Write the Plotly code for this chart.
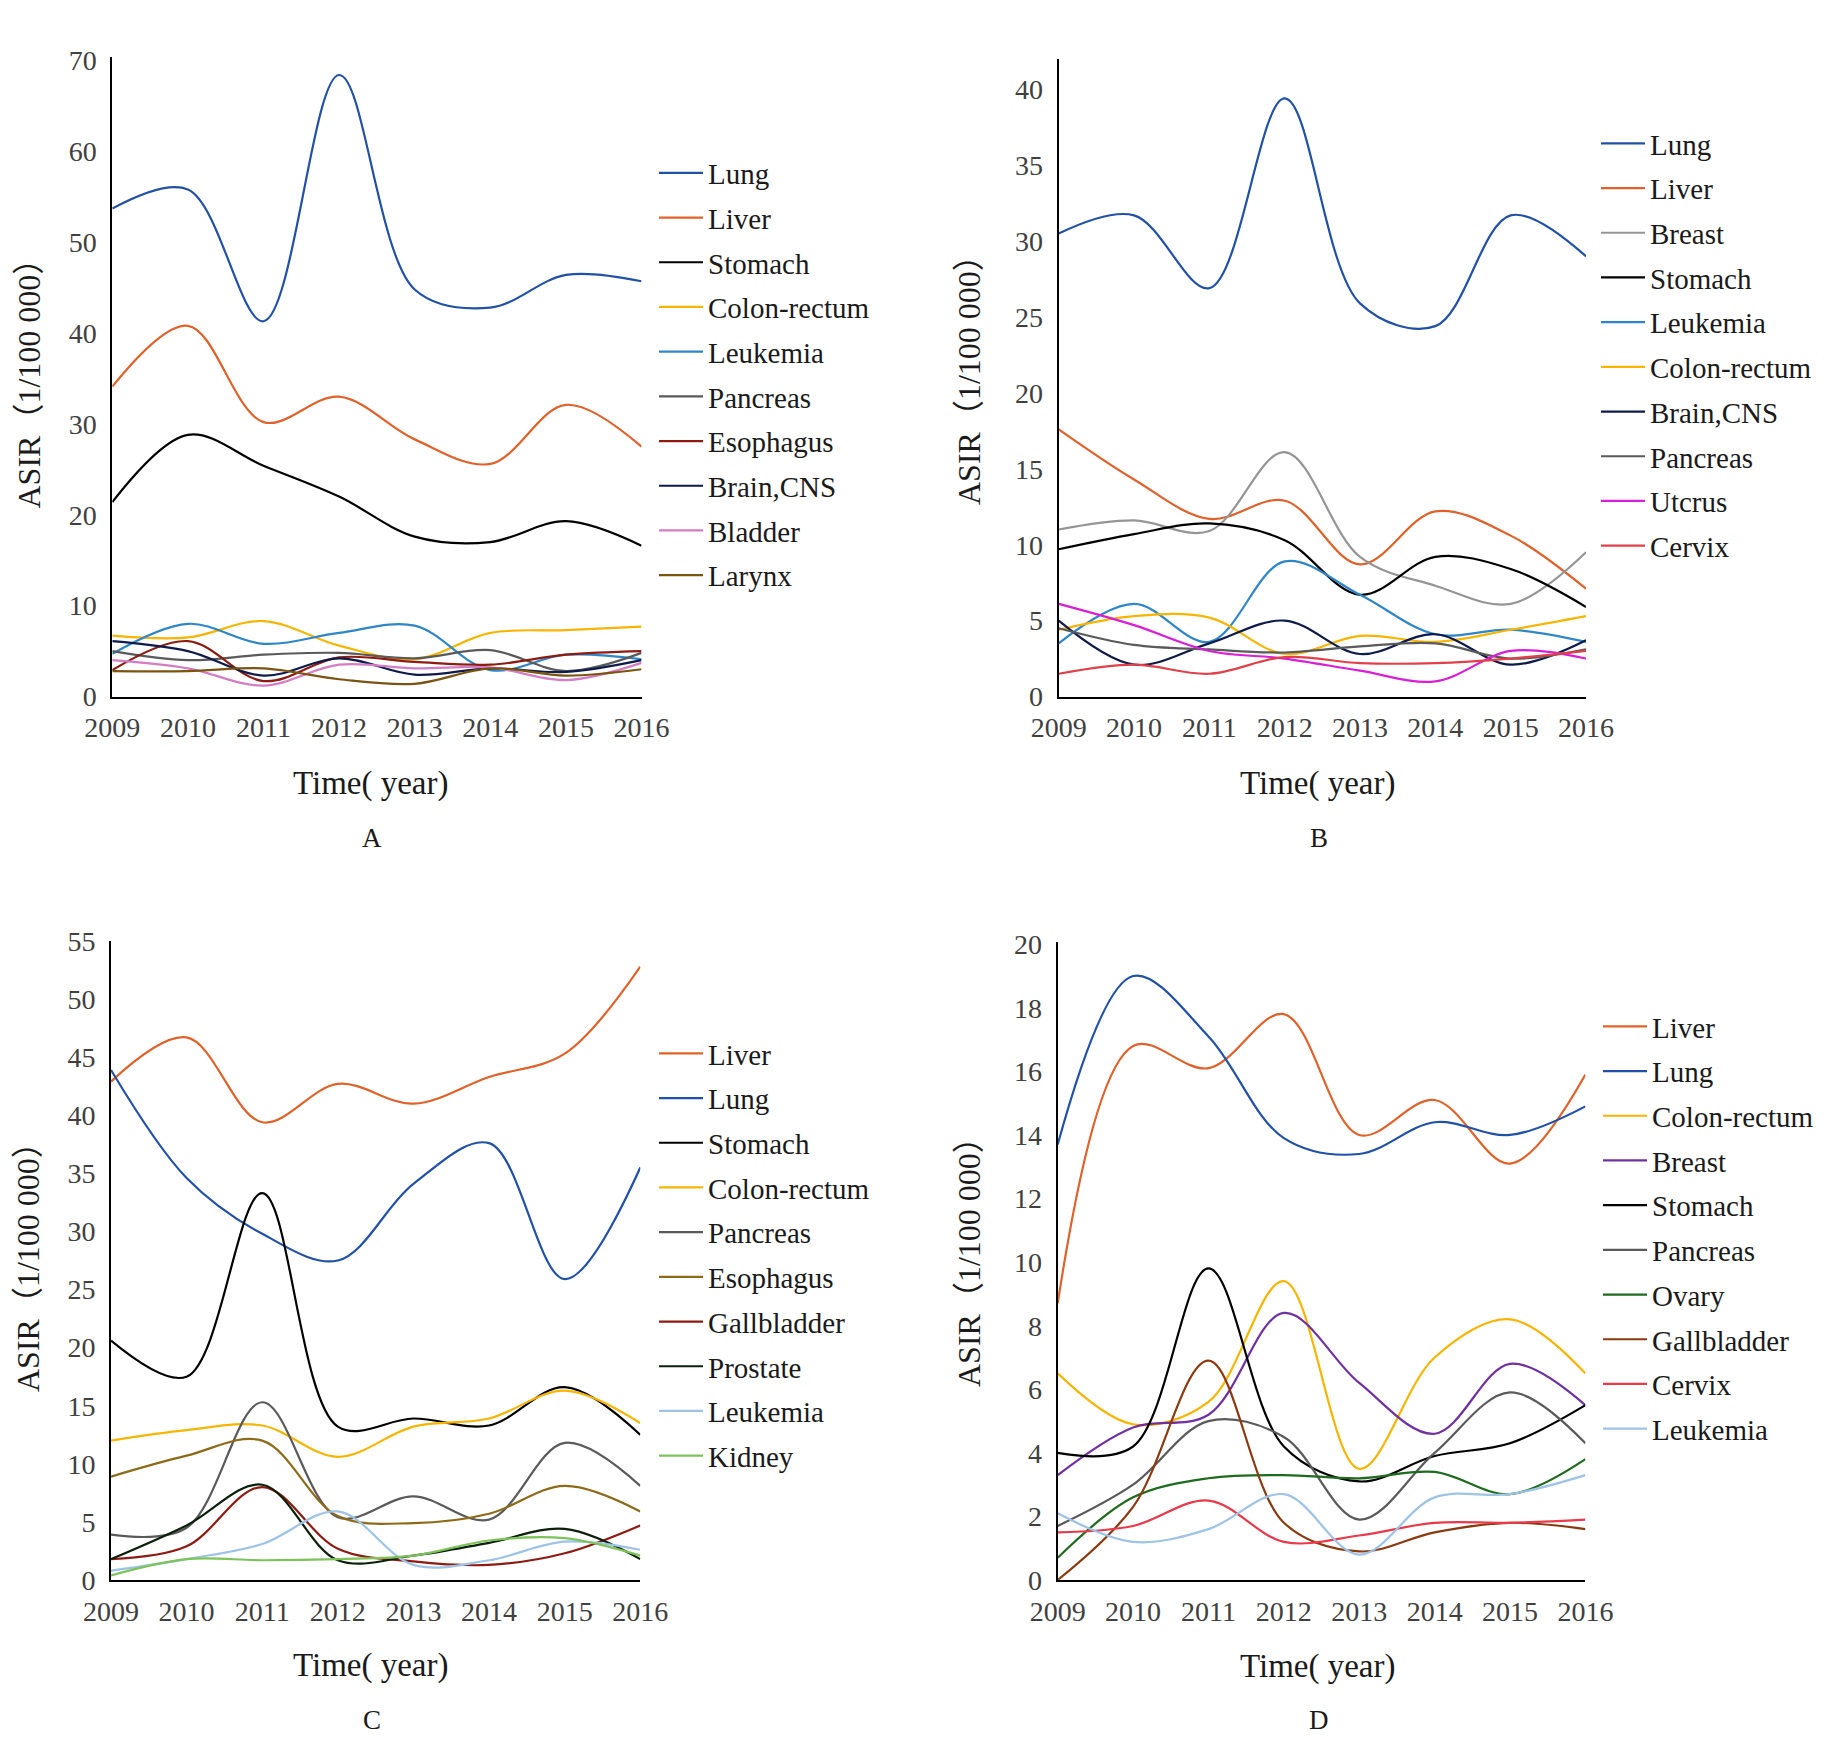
import plotly.graph_objects as go

years = [2009, 2010, 2011, 2012, 2013, 2014, 2015, 2016]
year_labels = ["2009", "2010", "2011", "2012", "2013", "2014", "2015", "2016"]

# ---------------- Panel A ----------------
A_names = ["Lung", "Liver", "Stomach", "Colon-rectum", "Leukemia", "Pancreas",
           "Esophagus", "Brain,CNS", "Bladder", "Larynx"]
A_lung = [53.7, 55.8, 41.3, 68.4, 44.8, 42.8, 46.4, 45.7]
A_liver = [34.1, 40.8, 30.2, 33.0, 28.3, 25.6, 32.1, 27.5]
A_stomach = [21.4, 28.8, 25.4, 22.0, 17.6, 17.0, 19.3, 16.6]
A_colon = [6.7, 6.5, 8.3, 5.6, 4.1, 7.0, 7.3, 7.7]
A_leukemia = [4.7, 8.0, 5.8, 7.0, 7.8, 2.9, 4.6, 4.1]
A_pancreas = [5.0, 4.0, 4.6, 4.8, 4.2, 5.1, 2.8, 4.8]
A_esophagus = [2.9, 6.1, 1.7, 4.3, 3.8, 3.5, 4.6, 5.0]
A_brain = [6.1, 5.0, 2.3, 4.2, 2.4, 3.1, 2.7, 4.0]
A_bladder = [4.0, 3.1, 1.2, 3.5, 3.1, 3.2, 1.8, 3.7]
A_larynx = [2.8, 2.8, 3.1, 1.9, 1.4, 3.1, 2.3, 3.0]
A_values = [A_lung, A_liver, A_stomach, A_colon, A_leukemia, A_pancreas,
            A_esophagus, A_brain, A_bladder, A_larynx]

# ---------------- Panel B ----------------
B_names = ["Lung", "Liver", "Breast", "Stomach", "Leukemia", "Colon-rectum",
           "Brain,CNS", "Pancreas", "Utcrus", "Cervix"]
B_lung = [30.5, 31.7, 26.9, 39.4, 25.9, 24.4, 31.7, 29.0]
B_liver = [17.6, 14.3, 11.7, 12.9, 8.7, 12.2, 10.6, 7.1]
B_breast = [11.0, 11.6, 10.9, 16.1, 9.2, 7.3, 6.1, 9.5]
B_stomach = [9.7, 10.7, 11.4, 10.3, 6.7, 9.2, 8.4, 5.9]
B_leukemia = [3.5, 6.1, 3.6, 8.9, 6.7, 4.1, 4.4, 3.6]
B_colon = [4.4, 5.3, 5.2, 2.8, 4.0, 3.6, 4.4, 5.3]
B_brain = [5.0, 2.1, 3.5, 5.0, 2.8, 4.1, 2.1, 3.7]
B_pancreas = [4.5, 3.4, 3.1, 2.9, 3.3, 3.5, 2.5, 3.1]
B_utcrus = [6.1, 4.7, 3.0, 2.5, 1.7, 1.0, 3.0, 2.5]
B_cervix = [1.5, 2.1, 1.5, 2.6, 2.2, 2.2, 2.5, 3.0]
B_values = [B_lung, B_liver, B_breast, B_stomach, B_leukemia, B_colon,
            B_brain, B_pancreas, B_utcrus, B_cervix]

# ---------------- Panel C ----------------
C_names = ["Liver", "Lung", "Stomach", "Colon-rectum", "Pancreas", "Esophagus",
           "Gallbladder", "Prostate", "Leukemia", "Kidney"]
C_liver = [42.9, 46.7, 39.4, 42.7, 41.0, 43.3, 45.3, 52.8]
C_lung = [43.9, 34.6, 29.8, 27.5, 34.1, 37.6, 25.9, 35.5]
C_stomach = [20.6, 17.5, 33.3, 13.2, 13.9, 13.3, 16.6, 12.5]
C_colon = [12.0, 12.9, 13.3, 10.6, 13.2, 13.9, 16.3, 13.5]
C_pancreas = [3.9, 4.5, 15.3, 5.4, 7.2, 5.2, 11.8, 8.1]
C_esophagus = [8.9, 10.7, 12.0, 5.5, 4.9, 5.7, 8.1, 5.9]
C_gallbladder = [1.8, 2.9, 8.0, 2.7, 1.6, 1.3, 2.3, 4.7]
C_prostate = [1.8, 4.7, 8.2, 1.7, 2.1, 3.2, 4.4, 1.8]
C_leukemia = [0.8, 1.8, 3.1, 5.9, 1.3, 1.7, 3.3, 2.6]
C_kidney = [0.4, 1.8, 1.7, 1.8, 2.1, 3.4, 3.6, 2.1]
C_values = [C_liver, C_lung, C_stomach, C_colon, C_pancreas, C_esophagus,
            C_gallbladder, C_prostate, C_leukemia, C_kidney]

# ---------------- Panel D ----------------
D_names = ["Liver", "Lung", "Colon-rectum", "Breast", "Stomach", "Pancreas",
           "Ovary", "Gallbladder", "Cervix", "Leukemia"]
D_liver = [8.7, 16.8, 16.1, 17.8, 14.0, 15.1, 13.1, 15.9]
D_lung = [13.7, 19.0, 17.1, 13.9, 13.4, 14.4, 14.0, 14.9]
D_colon = [6.5, 4.9, 5.6, 9.4, 3.5, 7.0, 8.2, 6.5]
D_breast = [3.3, 4.8, 5.2, 8.4, 6.2, 4.6, 6.8, 5.5]
D_stomach = [4.0, 4.2, 9.8, 4.2, 3.1, 3.9, 4.3, 5.5]
D_pancreas = [1.7, 3.0, 5.0, 4.5, 1.9, 4.0, 5.9, 4.3]
D_ovary = [0.7, 2.6, 3.2, 3.3, 3.2, 3.4, 2.7, 3.8]
D_gallbladder = [0.0, 2.3, 6.9, 1.8, 0.9, 1.5, 1.8, 1.6]
D_cervix = [1.5, 1.7, 2.5, 1.2, 1.4, 1.8, 1.8, 1.9]
D_leukemia = [2.1, 1.2, 1.6, 2.7, 0.8, 2.6, 2.7, 3.3]
D_values = [D_liver, D_lung, D_colon, D_breast, D_stomach, D_pancreas,
            D_ovary, D_gallbladder, D_cervix, D_leukemia]

# ---------------- styles ----------------
A_colors = ["#2151A6", "#E0622A", "#000000", "#F7B500", "#2E86C8", "#5A5A5A",
            "#8E1B12", "#0E1A4A", "#D47CC4", "#7A5410"]
B_colors = ["#2151A6", "#E0622A", "#959595", "#000000", "#2E86C8", "#F7B500",
            "#0E1A4A", "#5A5A5A", "#D91ED8", "#E0404A"]
C_colors = ["#E0622A", "#2151A6", "#000000", "#F7B500", "#5A5A5A", "#8E6A18",
            "#8E1B12", "#0B200B", "#9DC3E6", "#7DC35A"]
D_colors = ["#E0622A", "#2151A6", "#F7B500", "#7030A0", "#000000", "#5A5A5A",
            "#1E6B1E", "#8B3A10", "#E83A4A", "#9DC3E6"]

# The page body has an 8px default margin, so the figure is drawn 8px in.
OFF = 8
W, H = 1831 - OFF, 1752 - OFF
SERIF = "Liberation Serif, Times New Roman, serif"
TITLE_FONT = "Liberation Serif, Noto Sans CJK SC, serif"
LEG_SIZE = 29


def px(x):
    return (x - OFF) / W


def py(y):
    return 1 - (y - OFF) / H


fig = go.Figure()

panels = [
    # names, values, colors, axis suffix, legend id, x domain px, y px (bottom, top), y range, dtick, legend pos px
    (A_names, A_values, A_colors, "", "legend", (112.3, 641.5), (696.5, 57.3), [0, 70.35], 10, (654, 147.5)),
    (B_names, B_values, B_colors, "2", "legend2", (1058.7, 1586.0), (696.5, 59.0), [0, 42.0], 5, (1596, 118)),
    (C_names, C_values, C_colors, "3", "legend3", (111.0, 640.3), (1580.0, 941.0), [0, 55], 5, (654, 1028)),
    (D_names, D_values, D_colors, "4", "legend4", (1057.7, 1585.4), (1580.0, 942.0), [0, 20.07], 2, (1598, 1001)),
]

layout_axes = {}
for idx, (names, values, colors, sfx, leg, xd, yd, yr, dt, lpos) in enumerate(panels):
    for k, (nm, vals, col) in enumerate(zip(names, values, colors)):
        fig.add_trace(go.Scatter(
            x=years, y=vals, name=nm, mode="lines",
            line=dict(color=col, width=2.2, shape="spline", smoothing=1.0),
            xaxis="x" + sfx, yaxis="y" + sfx, legend=leg,
            legendgroup=f"{leg}_{k}", hoverinfo="x+y+name",
        ))
    layout_axes["xaxis" + sfx] = dict(
        domain=[px(xd[0]), px(xd[1])], anchor="y" + sfx, range=[2009, 2016],
        tickvals=years, ticktext=year_labels, showgrid=False, zeroline=False,
        showline=True, linecolor="#000000", linewidth=2, ticks="",
        ticklabelstandoff=5, automargin=False,
        tickfont=dict(family=SERIF, size=28, color="#404040"),
    )
    layout_axes["yaxis" + sfx] = dict(
        domain=[py(yd[0]), py(yd[1])], anchor="x" + sfx, range=yr, dtick=dt,
        tick0=0, showgrid=False, zeroline=False, showline=True,
        linecolor="#000000", linewidth=2, ticks="", ticklabelstandoff=8,
        automargin=False,
        tickfont=dict(family=SERIF, size=28, color="#404040"),
    )
    layout_axes[leg] = dict(
        x=px(lpos[0]), y=py(lpos[1]), xanchor="left", yanchor="top",
        xref="paper", yref="paper", bgcolor="rgba(0,0,0,0)", borderwidth=0,
        font=dict(family=SERIF, size=LEG_SIZE, color="#1A1A1A"),
        traceorder="grouped", tracegroupgap=4, itemwidth=44,
    )

annotations = []
ytitle_pos = [(28.5, 376.0), (969.0, 372.0), (28.0, 1259.0), (969.0, 1254.0)]
xtitle_pos = [(370.7, 783.0), (1317.5, 783.0), (370.7, 1665.7), (1317.5, 1666.0)]
letter_pos = [(372.3, 838.3), (1318.6, 838.3), (372.3, 1720.0), (1318.6, 1720.0)]
panel_letters = ["A", "B", "C", "D"]
for (yx, yy), (tx, ty), (lx, ly), letter in zip(ytitle_pos, xtitle_pos, letter_pos, panel_letters):
    annotations.append(dict(
        text="ASIR（1/100 000）", x=px(yx), y=py(yy), xref="paper", yref="paper",
        showarrow=False, textangle=-90, xanchor="center", yanchor="middle",
        font=dict(family=TITLE_FONT, size=32, color="#1A1A1A"),
    ))
    annotations.append(dict(
        text="Time( year)", x=px(tx), y=py(ty), xref="paper", yref="paper",
        showarrow=False, xanchor="center", yanchor="middle",
        font=dict(family=SERIF, size=33, color="#1A1A1A"),
    ))
    annotations.append(dict(
        text=letter, x=px(lx), y=py(ly), xref="paper", yref="paper",
        showarrow=False, xanchor="center", yanchor="middle",
        font=dict(family=SERIF, size=27, color="#1A1A1A"),
    ))

fig.update_layout(
    width=W, height=H,
    margin=dict(l=0, r=0, t=0, b=0, pad=0, autoexpand=False),
    paper_bgcolor="#FFFFFF", plot_bgcolor="#FFFFFF",
    annotations=annotations, showlegend=True,
    **layout_axes,
)

fig.write_html("out.html")
